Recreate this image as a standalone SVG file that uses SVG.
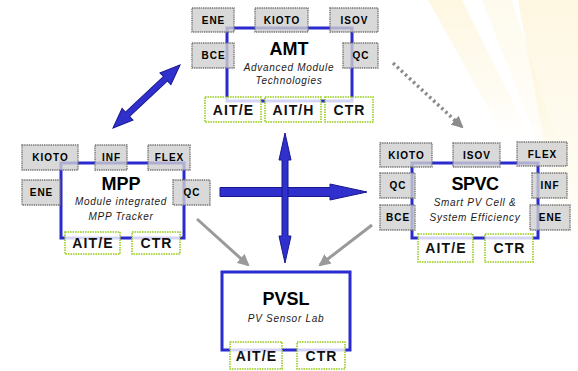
<svg xmlns="http://www.w3.org/2000/svg" width="578" height="371" viewBox="0 0 578 371">
<defs>
<linearGradient id="glow" x1="0" y1="0" x2="0" y2="1">
<stop offset="0" stop-color="#fbe9ab" stop-opacity="0.35"/>
<stop offset="0.7" stop-color="#fcefc6" stop-opacity="0.22"/>
<stop offset="1" stop-color="#fff8e0" stop-opacity="0"/>
</linearGradient>
<marker id="ghead" viewBox="0 0 12 12" markerWidth="12" markerHeight="12" refX="10" refY="6" orient="auto" markerUnits="userSpaceOnUse">
<path d="M0,0 L12,6 L0,12 z" fill="#9a9a9a"/>
</marker>
<marker id="dhead" viewBox="0 0 12 12" markerWidth="12" markerHeight="12" refX="10" refY="6" orient="auto" markerUnits="userSpaceOnUse">
<path d="M0,0 L12,6 L0,12 z" fill="#8c8c8c"/>
</marker>
</defs>
<style>
.frame{fill:#ffffff;stroke:#2b2bd0;stroke-width:3}
.pv{fill:#ffffff;stroke:#2b2bd0;stroke-width:3}
.g{fill:#d0d0d0;fill-opacity:0.8;stroke:#777777;stroke-width:1.4;stroke-dasharray:1.4 0.8}
.gr{fill:#ffffff;fill-opacity:0.8;stroke:#99cc22;stroke-width:1.6;stroke-dasharray:1.6 0.9}
.gt{font-family:"Liberation Sans",Arial,sans-serif;font-weight:bold;font-size:10px;letter-spacing:1px;fill:#000;text-anchor:middle}
.grt{font-family:"Liberation Sans",Arial,sans-serif;font-weight:bold;font-size:14px;letter-spacing:1.1px;fill:#111;text-anchor:middle}
.ttl{font-family:"Liberation Sans",Arial,sans-serif;font-weight:bold;font-size:18px;fill:#000;text-anchor:middle}
.sub{font-family:"Liberation Sans",Arial,sans-serif;font-style:italic;font-size:10px;letter-spacing:0.7px;fill:#1a1a1a;text-anchor:middle}
.blue{fill:#3030cc;stroke:#18188e;stroke-width:1}
.garr{stroke:#9a9a9a;stroke-width:3;fill:none}
.darr{stroke:#8c8c8c;stroke-width:3.5;stroke-dasharray:2.5 3;fill:none}
</style>
<rect x="0" y="0" width="578" height="371" fill="#ffffff"/>
<g id="background">
<polygon points="428,0 462,0 532,140 506,140" fill="url(#glow)"/>
<polygon points="482,0 512,0 566,170 548,170" fill="url(#glow)" opacity="0.6"/>
<polygon points="518,0 578,0 578,260 562,240" fill="url(#glow)"/>
</g>
<g id="connectors">
<line class="garr" x1="197" y1="219" x2="248" y2="265" marker-end="url(#ghead)"/>
<line class="garr" x1="372" y1="225" x2="320" y2="265" marker-end="url(#ghead)"/>
<line class="darr" x1="393" y1="63" x2="462" y2="127" marker-end="url(#dhead)"/>
<polygon class="blue" transform="translate(180,65) rotate(136.76)" points="0,0 20,-8 20,-3 72,-3 72,-8 92,0 72,8 72,3 20,3 20,8"/>
<polygon class="blue" points="220,187.5 330,187.5 330,184 367,192 330,200 330,196.5 220,196.5"/>
<polygon class="blue" points="285,133 291,160 288,160 288,236 291,236 285,263 279,236 282,236 282,160 279,160"/>
</g>
<g id="AMT">
<rect class="frame" x="227" y="28" width="125" height="73"/>
<rect class="g" x="192" y="8" width="42" height="24"/><text class="gt" x="213.5" y="23.6">ENE</text>
<rect class="g" x="255" y="8" width="53" height="24"/><text class="gt" x="282" y="23.6">KIOTO</text>
<rect class="g" x="330" y="8" width="48" height="24"/><text class="gt" x="354.5" y="23.6">ISOV</text>
<rect class="g" x="192" y="43" width="42" height="25"/><text class="gt" x="213.5" y="59">BCE</text>
<rect class="g" x="343" y="43" width="35" height="25"/><text class="gt" x="361" y="59">QC</text>
<rect class="gr" x="205" y="97" width="56" height="25"/><text class="grt" x="233.5" y="114.5">AIT/E</text>
<rect class="gr" x="265" y="97" width="56" height="25"/><text class="grt" x="293.5" y="114.5">AIT/H</text>
<rect class="gr" x="325" y="97" width="48" height="25"/><text class="grt" x="349.5" y="114.5">CTR</text>
<text class="ttl" x="289" y="55">AMT</text>
<text class="sub" x="289" y="71">Advanced Module</text>
<text class="sub" x="289" y="84">Technologies</text>
</g>
<g id="MPP">
<rect class="frame" x="61" y="163" width="123" height="75"/>
<rect class="g" x="22" y="145" width="56" height="25"/><text class="gt" x="50.5" y="161">KIOTO</text>
<rect class="g" x="95" y="145" width="32" height="25"/><text class="gt" x="111.5" y="161">INF</text>
<rect class="g" x="148" y="145" width="42" height="25"/><text class="gt" x="169.5" y="161">FLEX</text>
<rect class="g" x="22" y="180" width="38" height="25"/><text class="gt" x="41.5" y="196">ENE</text>
<rect class="g" x="173" y="180" width="37" height="25"/><text class="gt" x="192" y="196">QC</text>
<rect class="gr" x="65" y="232" width="55" height="22"/><text class="grt" x="93" y="248">AIT/E</text>
<rect class="gr" x="132" y="232" width="48" height="22"/><text class="grt" x="156.5" y="248">CTR</text>
<text class="ttl" x="121" y="190">MPP</text>
<text class="sub" x="121" y="205">Module integrated</text>
<text class="sub" x="121" y="220">MPP Tracker</text>
</g>
<g id="SPVC">
<rect class="frame" x="412" y="163" width="126" height="75"/>
<rect class="g" x="380" y="143" width="52" height="24"/><text class="gt" x="406.5" y="158.6">KIOTO</text>
<rect class="g" x="453" y="143" width="47" height="24"/><text class="gt" x="477" y="158.6">ISOV</text>
<rect class="g" x="517" y="142" width="50" height="24"/><text class="gt" x="542.5" y="157.6">FLEX</text>
<rect class="g" x="380" y="173" width="35" height="25"/><text class="gt" x="398" y="189">QC</text>
<rect class="g" x="380" y="205" width="35" height="25"/><text class="gt" x="398" y="221">BCE</text>
<rect class="g" x="532" y="173" width="35" height="25"/><text class="gt" x="550" y="189">INF</text>
<rect class="g" x="530" y="205" width="40" height="25"/><text class="gt" x="550.5" y="221">ENE</text>
<rect class="gr" x="418" y="234" width="55" height="28"/><text class="grt" x="446" y="253">AIT/E</text>
<rect class="gr" x="485" y="234" width="48" height="28"/><text class="grt" x="509.5" y="253">CTR</text>
<text class="ttl" x="475" y="190" style="letter-spacing:-0.5px">SPVC</text>
<text class="sub" x="475" y="206">Smart PV Cell &amp;</text>
<text class="sub" x="475" y="221">System Efficiency</text>
</g>
<g id="PVSL">
<rect class="pv" x="222" y="272" width="128" height="78"/>
<rect class="gr" x="230" y="342" width="52" height="27"/><text class="grt" x="256.5" y="360.5">AIT/E</text>
<rect class="gr" x="297" y="342" width="48" height="27"/><text class="grt" x="321.5" y="360.5">CTR</text>
<text class="ttl" x="286" y="305">PVSL</text>
<text class="sub" x="286" y="322">PV Sensor Lab</text>
</g>
</svg>
